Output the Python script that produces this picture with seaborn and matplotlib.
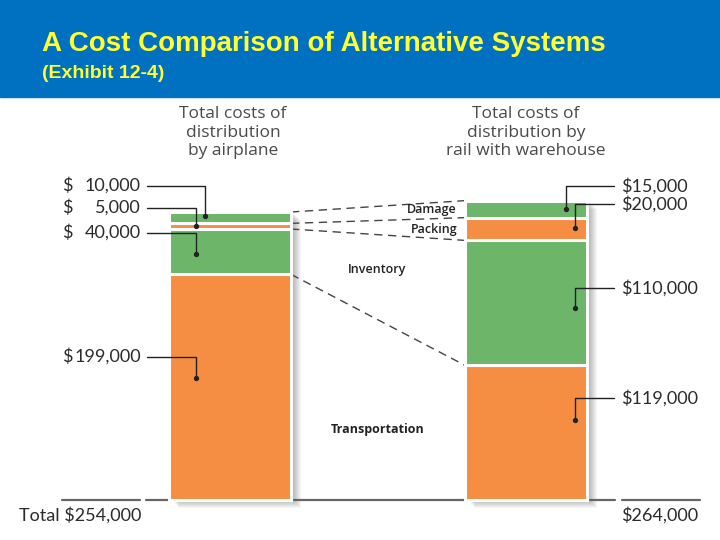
import numpy as np
import matplotlib
matplotlib.use("Agg")
import matplotlib.pyplot as plt
from matplotlib.patches import Rectangle
import seaborn as sns

systems = ["airplane", "rail with warehouse"]
headings = ["Total costs of\ndistribution\nby airplane",
            "Total costs of\ndistribution by\nrail with warehouse"]
segment_names = ["Transportation", "Inventory", "Packing", "Damage"]
transportation = [199000, 119000]
inventory = [40000, 110000]
packing = [5000, 20000]
damage = [10000, 15000]
title = "A Cost Comparison of Alternative Systems"
subtitle = "(Exhibit 12-4)"

GREEN = "#6cb569"
ORANGE = "#f58d42"
BLUE = "#0070c0"
YELLOW = "#ffff33"
INK = "#2b2b2b"

sns.set_theme(style="white")
plt.rcParams["font.family"] = ["Open Sans", "DejaVu Sans"]

segments = [transportation, inventory, packing, damage]
colors = [ORANGE, GREEN, ORANGE, GREEN]
tops = np.cumsum(segments, axis=0)
bottoms = np.vstack([np.zeros(len(systems)), tops[:-1]])
totals = tops[-1]

fig = plt.figure(figsize=(7.2, 5.4), dpi=100)
ax = fig.add_axes([0, 0, 1, 1])

# axes fills the figure: helper to place things by pixel
CX, UNIT, BASE = 230, 295.5, 500
YSCALE = 288 / totals[0]


def px(x, y):
    return (x - CX) / UNIT, (BASE - y) / YSCALE


BAR_W = 122 / UNIT

# drop shadow behind each bar
for i, tot in enumerate(totals):
    for k in range(1, 9):
        ax.add_patch(Rectangle((i - BAR_W / 2 + (k + 2) / UNIT, -k / YSCALE),
                               BAR_W, tot, color="black", alpha=0.035,
                               lw=0, zorder=1))

for vals, bot, col in zip(segments, bottoms, colors):
    sns.barplot(x=systems, y=vals, bottom=bot, color=col, saturation=1,
                width=BAR_W, edgecolor="white", linewidth=2.2, ax=ax, zorder=3)

x0, y0 = px(0, 540)
x1, y1 = px(720, 0)
ax.set_xlim(x0, x1)
ax.set_ylim(y0, y1)
ax.axis("off")

# header band
hb, ht = px(0, 97)[1], px(0, 0)[1]
ax.axhspan(hb, ht, color=BLUE, zorder=0)
ax.text(*px(42, 44), title, color=YELLOW, fontsize=20, fontweight="bold",
        family="Liberation Sans", va="center", ha="left")
ax.text(*px(42, 74), subtitle, color=YELLOW, fontsize=14, fontweight="bold",
        family="Liberation Sans", va="center", ha="left")

# column headings
for i, h in enumerate(headings):
    hx = [233, 526][i]
    ax.text(px(hx, 0)[0], px(0, 106)[1], h, ha="center", va="top",
            fontsize=12.5, color="#4a4a4a", linespacing=1.22)

# baseline
base_y = 0
for a, b in [(62, 140), (146, 615), (622, 700)]:
    ax.plot([px(a, 0)[0], px(b, 0)[0]], [base_y, base_y], color="#666666",
            lw=1.6, zorder=2)

# dashed connectors between segment boundaries
for t in tops:
    ax.plot([0 + BAR_W / 2, 1 - BAR_W / 2], [t[0], t[1]], color="#444444",
            lw=1, dashes=(6, 4), zorder=2)

# segment captions
cap_pos = [(378, 430, "center"), (377, 269, "center"),
           (457, 229, "right"), (457, 210, "right")]
for name, (cx_, cy_, ha) in zip(segment_names, cap_pos):
    ax.text(*px(cx_, cy_), name, ha=ha, va="center", fontsize=9,
            fontweight="bold" if name == "Transportation" else "semibold",
            color="#222222")

# leader lines and value labels
label_y = [[357, 233, 208, 186], [398, 288, 204, 186]]
elbow_x = [[196, 196, 196, 205], [575, 575, 575, 566]]
frac = [[0.54, 0.44, 0.5, 0.64], [0.59, 0.46, 0.56, 0.53]]
start_x = [147, 614]
lab = dict(fontsize=13, color=INK, family="Lato", va="center")
for i in range(len(systems)):
    for s in range(len(segments)):
        ly = px(0, label_y[i][s])[1]
        ex = px(elbow_x[i][s], 0)[0]
        sx = px(start_x[i], 0)[0]
        dy = bottoms[s][i] + frac[i][s] * segments[s][i]
        ax.plot([sx, ex, ex], [ly, ly, dy], color="#222222", lw=1, zorder=4)
        ax.plot(ex, dy, "o", color="#222222", ms=2.8, zorder=5)
        num = f"{segments[s][i]:,}"
        if i == 0:
            ax.text(*px(62, label_y[i][s]), "$", ha="left", **lab)
            ax.text(*px(141, label_y[i][s]), num, ha="right", **lab)
        else:
            ax.text(*px(621, label_y[i][s]), "$" + num, ha="left", **lab)

ax.text(*px(141, 515), f"Total ${totals[0]:,}", ha="right", **lab)
ax.text(*px(621, 515), f"${totals[1]:,}", ha="left", **lab)

fig.savefig("out.png", dpi=100)
